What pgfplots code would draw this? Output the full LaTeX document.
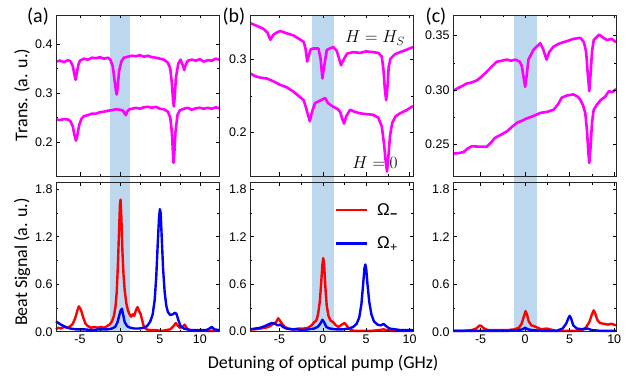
\documentclass[border=0pt]{standalone}
\usepackage{fontspec}
\setmainfont{Liberation Sans}
\newfontfamily\calib{Carlito}
\usepackage{pgfplots}
\pgfplotsset{compat=1.18}
\definecolor{band}{RGB}{189,215,238}
\definecolor{mag}{RGB}{255,0,255}
\tikzset{ylab/.style={font=\calib\fontsize{18}{18}\selectfont}}
\newcommand{\sub}[1]{\kern0.3pt\raisebox{-3pt}{\fontsize{12.5}{12.5}\selectfont\bfseries #1}}
\pgfplotsset{
  base/.style={scale only axis, width=163pt, axis on top,
    axis line style={black!85, line width=0.9pt},
    tick style={black, line width=0.6pt},
    major tick length=3.5pt, minor tick length=2pt, tick align=inside,
    xtick={-5,0,5,10}, minor x tick num=1, minor y tick num=1,
    tick label style={font=\fontsize{12.5}{12.5}\selectfont},
    /pgf/number format/assume math mode=true},
  toprow/.style={base, height=161pt, xticklabels={}},
  botrow/.style={base, height=149pt, ymin=0, ymax=1.884, ytick={0,0.6,1.2,1.8},
    yticklabel style={/pgf/number format/.cd, fixed, fixed zerofill, precision=1},
    clip=false},
  mline/.style={mag, line width=2.6pt, line join=round},
  rline/.style={red, line width=2.4pt, line join=round},
  bline/.style={blue, line width=2.4pt, line join=round},
}
\begin{document}
\begin{tikzpicture}
\path[use as bounding box] (0,0) rectangle (634pt,379pt);

% ---------------- bottom row ----------------
\begin{axis}[botrow, at={(56pt,47.3pt)}, anchor=south west, xmin=-8, xmax=12.4,
  ylabel={Beat Signal (a. u.)}, ylabel style={ylab, at={(axis description cs:-0.208,0.468)}, anchor=center}]
\addplot[fill=band, draw=none] coordinates {(-1.2,0) (1.3,0) (1.3,1.969) (-1.2,1.969)} -- cycle;
\addplot[rline] coordinates {(-8,0.03)(-7.7,0.05)(-7.4,0.04)(-7,0.06)(-6.6,0.05)(-6.2,0.07)(-5.9,0.10)(-5.6,0.17)(-5.35,0.26)(-5.15,0.32)(-5,0.30)(-4.85,0.27)(-4.6,0.18)(-4.3,0.10)(-4,0.07)(-3.6,0.05)(-3.2,0.06)(-2.8,0.05)(-2.4,0.06)(-2,0.05)(-1.6,0.07)(-1.3,0.09)(-1,0.13)(-0.75,0.2)(-0.55,0.32)(-0.4,0.5)(-0.25,0.85)(-0.1,1.3)(0,1.6)(0.08,1.67)(0.18,1.45)(0.3,1.05)(0.45,0.72)(0.6,0.52)(0.8,0.36)(1.0,0.27)(1.2,0.22)(1.4,0.19)(1.6,0.22)(1.8,0.2)(2.0,0.27)(2.2,0.31)(2.4,0.26)(2.6,0.22)(2.8,0.14)(3.0,0.06)(3.3,0.03)(3.8,0.02)(4.5,0.02)(5.2,0.01)(5.8,0.02)(6.3,0.03)(6.7,0.07)(7.0,0.11)(7.2,0.08)(7.5,0.05)(7.8,0.06)(8.1,0.09)(8.4,0.04)(8.8,0.02)(9.5,0.01)(10.5,0.01)(11.5,0.01)(12.4,0.01)};
\addplot[bline] coordinates {(-8,0.13)(-7.7,0.11)(-7.4,0.09)(-7,0.07)(-6.6,0.05)(-6.2,0.04)(-5.5,0.03)(-4.5,0.03)(-3.5,0.02)(-2.5,0.03)(-1.5,0.03)(-1,0.04)(-0.6,0.06)(-0.3,0.12)(-0.1,0.2)(0.1,0.27)(0.25,0.29)(0.4,0.22)(0.6,0.12)(0.9,0.07)(1.3,0.05)(1.8,0.04)(2.4,0.04)(3,0.05)(3.4,0.07)(3.8,0.13)(4.1,0.22)(4.35,0.4)(4.55,0.7)(4.75,1.15)(4.9,1.45)(5.0,1.55)(5.1,1.5)(5.25,1.15)(5.4,0.8)(5.6,0.5)(5.8,0.33)(6.0,0.25)(6.3,0.21)(6.6,0.22)(6.9,0.24)(7.1,0.22)(7.3,0.15)(7.6,0.07)(8,0.04)(8.8,0.02)(9.8,0.02)(10.8,0.02)(11.2,0.04)(11.5,0.06)(11.8,0.03)(12.4,0.02)};
\end{axis}

\begin{axis}[botrow, at={(250pt,47.3pt)}, anchor=south west, xmin=-8.4, xmax=10.4,
  xlabel={Detuning of optical pump (GHz)}, xlabel style={ylab, at={(axis description cs:0.449,-0.21)}, anchor=center},
  legend style={at={(axis description cs:0.518,0.875)}, anchor=north west, draw=none, fill=none,
    font=\fontsize{17}{17}\selectfont, row sep=16pt, inner sep=0pt,
    /tikz/every odd column/.append style={column sep=7pt}},
  legend cell align=left,
  legend image code/.code={\draw[#1] (0pt,0pt) -- (31pt,0pt);}]
\addplot[fill=band, draw=none, forget plot] coordinates {(-1.2,0) (1.3,0) (1.3,1.969) (-1.2,1.969)} -- cycle;
\addplot[rline] coordinates {(-8.4,0.03)(-7.8,0.03)(-7.2,0.04)(-6.6,0.05)(-6.1,0.07)(-5.7,0.1)(-5.4,0.12)(-5.15,0.17)(-4.95,0.14)(-4.7,0.1)(-4.4,0.06)(-4,0.04)(-3.4,0.03)(-2.8,0.04)(-2.2,0.04)(-1.7,0.05)(-1.3,0.08)(-1,0.12)(-0.75,0.14)(-0.55,0.22)(-0.35,0.38)(-0.2,0.6)(-0.05,0.85)(0.05,0.93)(0.15,0.85)(0.3,0.55)(0.45,0.33)(0.65,0.2)(0.9,0.14)(1.2,0.12)(1.5,0.08)(1.8,0.06)(2.2,0.09)(2.5,0.11)(2.8,0.07)(3.1,0.03)(3.6,0.01)(4.5,0.01)(5.5,0.01)(6.5,0.02)(7,0.03)(7.4,0.02)(8,0.01)(9,0.01)(10.4,0.01)};
\addlegendentry{Ω\sub{−}}
\addplot[bline] coordinates {(-8.4,0.03)(-7.8,0.04)(-7.2,0.05)(-6.7,0.07)(-6.3,0.09)(-5.9,0.11)(-5.5,0.1)(-5.2,0.08)(-4.9,0.09)(-4.6,0.06)(-4.2,0.04)(-3.6,0.03)(-3,0.03)(-2.3,0.02)(-1.6,0.03)(-1,0.04)(-0.6,0.06)(-0.3,0.1)(-0.05,0.15)(0.15,0.12)(0.4,0.06)(0.8,0.04)(1.5,0.03)(2.3,0.03)(3,0.04)(3.5,0.06)(3.9,0.1)(4.2,0.18)(4.45,0.35)(4.65,0.6)(4.8,0.8)(4.9,0.85)(5.0,0.8)(5.15,0.6)(5.35,0.38)(5.6,0.22)(5.9,0.13)(6.3,0.09)(6.7,0.08)(7.0,0.1)(7.3,0.07)(7.7,0.04)(8.3,0.03)(9,0.02)(10.4,0.02)};
\addlegendentry{Ω\sub{\mdseries +}}
\end{axis}

\begin{axis}[botrow, at={(453pt,47.3pt)}, anchor=south west, xmin=-8.1, xmax=10.2]
\addplot[fill=band, draw=none] coordinates {(-1.2,0) (1.3,0) (1.3,1.969) (-1.2,1.969)} -- cycle;
\addplot[rline] coordinates {(-8.1,0.01)(-7,0.01)(-6,0.02)(-5.5,0.04)(-5.1,0.08)(-4.9,0.07)(-4.6,0.04)(-4.2,0.02)(-3,0.02)(-2,0.02)(-1.2,0.03)(-0.7,0.05)(-0.4,0.1)(-0.15,0.19)(0.05,0.26)(0.2,0.22)(0.4,0.13)(0.7,0.08)(1.0,0.07)(1.4,0.05)(1.8,0.03)(2.4,0.04)(2.8,0.03)(3.5,0.01)(4.5,0.01)(5.5,0.01)(6.3,0.02)(6.8,0.05)(7.2,0.12)(7.5,0.22)(7.7,0.27)(7.9,0.22)(8.1,0.15)(8.4,0.11)(8.8,0.1)(9.3,0.09)(9.7,0.1)(10.2,0.08)};
\addplot[bline] coordinates {(-8.1,0.01)(-6,0.01)(-4,0.01)(-2,0.01)(-0.8,0.02)(-0.3,0.03)(0,0.05)(0.3,0.03)(0.8,0.02)(2,0.01)(3.5,0.01)(4.2,0.04)(4.6,0.1)(4.85,0.17)(5.0,0.2)(5.15,0.17)(5.4,0.08)(5.8,0.04)(6.5,0.03)(7,0.04)(7.5,0.02)(8.5,0.01)(10.2,0.01)};
\end{axis}

% ---------------- top row ----------------
\begin{axis}[toprow, at={(56pt,203pt)}, anchor=south west, xmin=-8, xmax=12.4, ymin=0.131, ymax=0.459,
  ytick={0.2,0.3,0.4}, yticklabel style={/pgf/number format/.cd, fixed, fixed zerofill, precision=1},
  ylabel={Trans. (a. u.)}, ylabel style={ylab, at={(axis description cs:-0.208,0.503)}, anchor=center}]
\addplot[fill=band, draw=none] coordinates {(-1.2,0.131) (1.3,0.131) (1.3,0.459) (-1.2,0.459)} -- cycle;
\addplot[mline] coordinates {(-8,0.364)(-7.5,0.366)(-7,0.363)(-6.5,0.367)(-6.2,0.365)(-5.9,0.355)(-5.7,0.338)(-5.55,0.327)(-5.4,0.34)(-5.2,0.358)(-5,0.366)(-4.5,0.370)(-4,0.368)(-3.5,0.372)(-3,0.371)(-2.5,0.373)(-2,0.370)(-1.5,0.372)(-1.2,0.368)(-0.9,0.355)(-0.7,0.33)(-0.5,0.305)(-0.4,0.297)(-0.3,0.31)(-0.1,0.345)(0.2,0.365)(0.5,0.372)(1,0.374)(1.5,0.376)(2,0.375)(2.5,0.377)(3,0.374)(3.5,0.376)(4,0.373)(4.5,0.372)(5,0.370)(5.5,0.368)(6,0.362)(6.3,0.35)(6.5,0.32)(6.65,0.285)(6.75,0.273)(6.85,0.29)(7,0.33)(7.3,0.36)(7.6,0.368)(7.9,0.355)(8.05,0.347)(8.2,0.356)(8.5,0.366)(9,0.368)(9.5,0.366)(10,0.369)(10.5,0.364)(11,0.367)(11.5,0.366)(12,0.370)(12.4,0.368)};
\addplot[mline] coordinates {(-8,0.246)(-7.5,0.245)(-7,0.247)(-6.5,0.246)(-6.2,0.243)(-5.9,0.232)(-5.7,0.215)(-5.5,0.203)(-5.35,0.212)(-5.1,0.235)(-4.8,0.248)(-4.5,0.253)(-4,0.255)(-3.5,0.258)(-3,0.258)(-2.5,0.261)(-2,0.262)(-1.5,0.264)(-1,0.265)(-0.5,0.267)(0,0.266)(0.4,0.264)(0.6,0.258)(0.75,0.255)(0.9,0.262)(1.2,0.267)(1.5,0.268)(2,0.270)(2.5,0.268)(3,0.271)(3.5,0.272)(4,0.270)(4.5,0.272)(5,0.268)(5.5,0.267)(6,0.262)(6.3,0.25)(6.5,0.22)(6.6,0.19)(6.7,0.158)(6.8,0.175)(6.95,0.22)(7.2,0.255)(7.5,0.265)(8,0.268)(8.5,0.270)(9,0.266)(9.5,0.269)(10,0.270)(10.5,0.268)(11,0.270)(11.5,0.268)(12,0.271)(12.4,0.269)};
\end{axis}

\begin{axis}[toprow, at={(250pt,203pt)}, anchor=south west, xmin=-8.4, xmax=10.4, ymin=0.140, ymax=0.361,
  ytick={0.2,0.3}, yticklabel style={/pgf/number format/.cd, fixed, fixed zerofill, precision=1}]
\addplot[fill=band, draw=none] coordinates {(-1.2,0.140) (1.3,0.140) (1.3,0.361) (-1.2,0.361)} -- cycle;
\addplot[mline] coordinates {(-8.4,0.350)(-7.6,0.346)(-6.85,0.342)(-6.4,0.337)(-6.05,0.327)(-5.7,0.334)(-5.3,0.337)(-4.9,0.339)(-4.2,0.336)(-3.4,0.333)(-2.7,0.328)(-2.2,0.324)(-2.0,0.315)(-1.8,0.297)(-1.6,0.306)(-1.4,0.314)(-1.1,0.315)(-0.5,0.315)(-0.25,0.300)(-0.05,0.274)(0.15,0.290)(0.46,0.313)(0.8,0.315)(1.2,0.317)(1.6,0.312)(1.9,0.300)(2.1,0.292)(2.4,0.300)(2.8,0.308)(3.5,0.310)(4.3,0.309)(5.0,0.311)(5.8,0.310)(6.4,0.309)(6.8,0.304)(7.0,0.285)(7.15,0.260)(7.3,0.244)(7.45,0.262)(7.6,0.290)(7.8,0.301)(8.3,0.307)(8.9,0.310)(9.6,0.313)(10.4,0.317)};
\addplot[mline] coordinates {(-8.4,0.281)(-7.8,0.277)(-7.2,0.275)(-6.5,0.274)(-5.7,0.270)(-4.9,0.265)(-4.2,0.262)(-3.4,0.256)(-2.8,0.250)(-2.2,0.244)(-1.85,0.230)(-1.5,0.215)(-1.25,0.228)(-0.9,0.240)(-0.4,0.243)(0.27,0.247)(0.6,0.240)(1.2,0.235)(1.7,0.232)(2.0,0.228)(2.25,0.218)(2.45,0.212)(2.7,0.222)(3.15,0.231)(3.7,0.228)(4.3,0.226)(5.0,0.225)(5.8,0.224)(6.4,0.220)(6.8,0.208)(7.05,0.185)(7.25,0.160)(7.4,0.146)(7.55,0.165)(7.75,0.195)(8.0,0.213)(8.4,0.222)(8.9,0.226)(9.6,0.230)(10.4,0.236)};
\end{axis}

\begin{axis}[toprow, at={(453pt,203pt)}, anchor=south west, xmin=-8.1, xmax=10.2, ymin=0.221, ymax=0.369,
  ytick={0.25,0.30,0.35}, yticklabel style={/pgf/number format/.cd, fixed, fixed zerofill, precision=2}]
\addplot[fill=band, draw=none] coordinates {(-1.2,0.221) (1.3,0.221) (1.3,0.369) (-1.2,0.369)} -- cycle;
\addplot[mline] coordinates {(-8.05,0.2995)(-7.5,0.302)(-7.0,0.304)(-6.55,0.306)(-6.0,0.307)(-5.4,0.309)(-4.8,0.313)(-4.3,0.317)(-3.7,0.322)(-3.2,0.326)(-2.6,0.327)(-2.05,0.328)(-1.6,0.327)(-1.1,0.328)(-0.6,0.326)(-0.37,0.322)(-0.18,0.312)(0,0.303)(0.15,0.312)(0.37,0.328)(0.94,0.337)(1.3,0.340)(1.7,0.343)(2.0,0.338)(2.4,0.328)(2.7,0.335)(3.2,0.340)(3.9,0.343)(4.7,0.345)(5.4,0.347)(6.2,0.348)(6.6,0.344)(6.85,0.335)(7.0,0.318)(7.2,0.299)(7.35,0.315)(7.5,0.335)(7.7,0.346)(8.3,0.351)(8.8,0.348)(9.2,0.346)(9.7,0.347)(10.2,0.344)};
\addplot[mline] coordinates {(-8.05,0.2416)(-7.5,0.242)(-6.9,0.243)(-6.5,0.246)(-6.0,0.2483)(-5.2,0.248)(-4.3,0.248)(-3.8,0.252)(-3.4,0.256)(-2.7,0.259)(-2.05,0.262)(-1.5,0.266)(-0.9,0.270)(-0.3,0.272)(0.2,0.274)(0.9,0.276)(1.7,0.279)(2.5,0.280)(3.2,0.282)(3.7,0.287)(4.1,0.293)(4.7,0.295)(5.4,0.296)(5.9,0.294)(6.2,0.291)(6.5,0.286)(6.75,0.279)(6.95,0.262)(7.1,0.242)(7.2,0.233)(7.35,0.248)(7.5,0.270)(7.7,0.282)(8.1,0.287)(8.5,0.291)(9.0,0.294)(9.4,0.299)(9.8,0.298)(10.2,0.301)};
\end{axis}

% panel labels and annotations
\node[font=\calib\fontsize{20}{20}\selectfont] at (38pt,362pt) {(a)};
\node[font=\calib\fontsize{20}{20}\selectfont] at (234pt,362pt) {(b)};
\node[font=\calib\fontsize{20}{20}\selectfont] at (436pt,362pt) {(c)};
\node[font=\fontsize{17}{17}\selectfont] at (375pt,341pt) {$H = H_S$};
\node[font=\fontsize{17}{17}\selectfont] at (375pt,216pt) {$H = 0$};
\end{tikzpicture}
\end{document}
